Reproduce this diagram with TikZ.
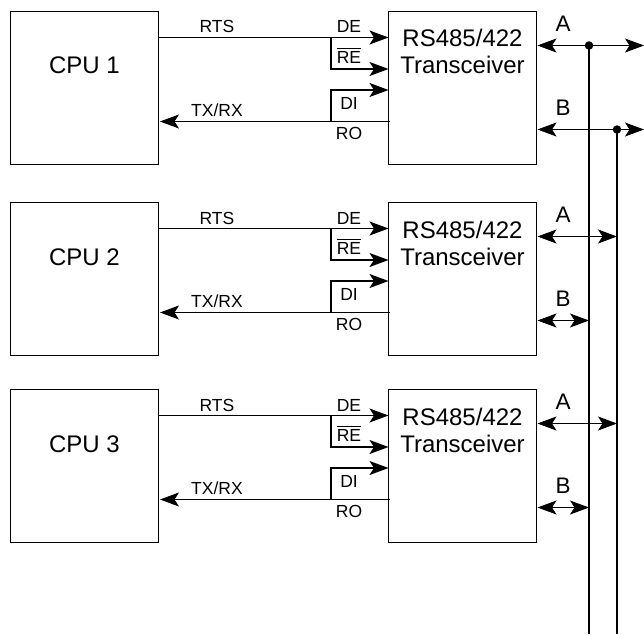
\documentclass[tikz,border=0pt]{standalone}
\usepackage{fontspec}
\setmainfont{Liberation Sans}
\usetikzlibrary{positioning, arrows.meta}

\begin{document}
\begin{tikzpicture}[
    % Block styles
    cpu/.style={
      rectangle, draw=black, line width=1pt, outer sep=0pt,
      minimum width=148pt, minimum height=152.5pt
    },
    transceiver/.style={cpu},
    boxlabel/.style={font=\fontsize{24}{26}\selectfont, anchor=base, inner sep=0pt},
    buslabel/.style={font=\fontsize{22.5}{24}\selectfont, anchor=base, inner sep=0pt},
    siglabel/.style={font=\fontsize{17.5}{20}\selectfont, anchor=base, inner sep=0pt},
    % Connector styles
    tip/.tip={Stealth[length=19pt, width=14pt, inset=4.5pt]},
    wire/.style={draw=black, line width=1pt},
    ctrlwire/.style={draw=black, line width=1.6pt},
    busline/.style={draw=black, line width=1pt},
    rail/.style={draw=black, line width=2pt},
    junction/.style={circle, fill=black, inner sep=0pt, minimum size=8.5pt},
  ]
  \useasboundingbox (0,0) rectangle (644pt,-634pt);

  % === Bus rails ===
  \coordinate (railA) at (589pt,-634pt);
  \coordinate (railB) at (617pt,-634pt);
  \coordinate (outA) at (644pt,-45.5pt);
  \coordinate (outB) at (644pt,-129.5pt);

  % === CPU 1 ===
  \node[cpu] (cpu1) at (84.5pt,-87.75pt) {};
  \node[transceiver, right=230pt of cpu1] (xcvr1) {};
  \node[boxlabel] (cpu1text) at ([yshift=-62.5pt]cpu1.north) {CPU 1};
  \node[boxlabel] (xcvr1top) at ([yshift=-35.5pt]xcvr1.north) {RS485/422};
  \node[boxlabel] (xcvr1bot) at ([yshift=-62.5pt]xcvr1.north) {Transceiver};

  \node[siglabel] (rts1) at ([shift={(58.5pt,-21.5pt)}]cpu1.north east) {RTS};
  \node[siglabel] (txrx1) at ([shift={(58.5pt,-105pt)}]cpu1.north east) {TX/RX};
  \node[siglabel] (de1) at ([shift={(-39.5pt,-21.5pt)}]xcvr1.north west) {DE};
  \node[siglabel] (re1) at ([shift={(-39.5pt,-52pt)}]xcvr1.north west) {$\overline{\mbox{\rule{0pt}{14pt}RE}}$};
  \node[siglabel] (di1) at ([shift={(-39.5pt,-97.5pt)}]xcvr1.north west) {DI};
  \node[siglabel] (ro1) at ([shift={(-39.5pt,-128pt)}]xcvr1.north west) {RO};
  \node[buslabel] (a1) at ([shift={(26.5pt,-20.2pt)}]xcvr1.north east) {A};
  \node[buslabel] (b1) at ([shift={(26.5pt,-104.2pt)}]xcvr1.north east) {B};

  \coordinate (rets1) at ([shift={(-57.5pt,-26pt)}]xcvr1.north west);
  \coordinate (dirx1) at ([shift={(-57.5pt,-110pt)}]xcvr1.north west);
  \coordinate (busa1) at ([shift={(1pt,-34pt)}]xcvr1.north east);
  \coordinate (busb1) at ([shift={(1pt,-118pt)}]xcvr1.north east);

  \draw[wire, -{tip}] ([yshift=-26pt]cpu1.north east) -- ([yshift=-26pt]xcvr1.north west);
  \draw[wire, -{tip}] ([shift={(1.5pt,-110pt)}]xcvr1.north west) -- ([shift={(1.5pt,-110pt)}]cpu1.north east);
  \draw[ctrlwire, -{tip}] (rets1) |- ([yshift=-57.5pt]xcvr1.north west);
  \draw[ctrlwire, -{tip}] (dirx1) |- ([yshift=-78.5pt]xcvr1.north west);
  \draw[busline, {tip}-{tip}] (busa1) -- (outA);
  \draw[busline, {tip}-{tip}] (busb1) -- (outB);

  \node[junction] (dotA) at (railA |- outA) {};
  \node[junction] (dotB) at (railB |- outB) {};
  \draw[rail] (dotA.center) -- (railA);
  \draw[rail] (dotB.center) -- (railB);

  % === CPU 2 ===
  \node[cpu, below=38.5pt of cpu1] (cpu2) {};
  \node[transceiver, right=230pt of cpu2] (xcvr2) {};
  \node[boxlabel] (cpu2text) at ([yshift=-62.5pt]cpu2.north) {CPU 2};
  \node[boxlabel] (xcvr2top) at ([yshift=-35.5pt]xcvr2.north) {RS485/422};
  \node[boxlabel] (xcvr2bot) at ([yshift=-62.5pt]xcvr2.north) {Transceiver};

  \node[siglabel] (rts2) at ([shift={(58.5pt,-21.5pt)}]cpu2.north east) {RTS};
  \node[siglabel] (txrx2) at ([shift={(58.5pt,-105pt)}]cpu2.north east) {TX/RX};
  \node[siglabel] (de2) at ([shift={(-39.5pt,-21.5pt)}]xcvr2.north west) {DE};
  \node[siglabel] (re2) at ([shift={(-39.5pt,-52pt)}]xcvr2.north west) {$\overline{\mbox{\rule{0pt}{14pt}RE}}$};
  \node[siglabel] (di2) at ([shift={(-39.5pt,-97.5pt)}]xcvr2.north west) {DI};
  \node[siglabel] (ro2) at ([shift={(-39.5pt,-128pt)}]xcvr2.north west) {RO};
  \node[buslabel] (a2) at ([shift={(26.5pt,-20.2pt)}]xcvr2.north east) {A};
  \node[buslabel] (b2) at ([shift={(26.5pt,-104.2pt)}]xcvr2.north east) {B};

  \coordinate (rets2) at ([shift={(-57.5pt,-26pt)}]xcvr2.north west);
  \coordinate (dirx2) at ([shift={(-57.5pt,-110pt)}]xcvr2.north west);
  \coordinate (busa2) at ([shift={(1pt,-34pt)}]xcvr2.north east);
  \coordinate (busb2) at ([shift={(1pt,-118pt)}]xcvr2.north east);

  \draw[wire, -{tip}] ([yshift=-26pt]cpu2.north east) -- ([yshift=-26pt]xcvr2.north west);
  \draw[wire, -{tip}] ([shift={(1.5pt,-110pt)}]xcvr2.north west) -- ([shift={(1.5pt,-110pt)}]cpu2.north east);
  \draw[ctrlwire, -{tip}] (rets2) |- ([yshift=-57.5pt]xcvr2.north west);
  \draw[ctrlwire, -{tip}] (dirx2) |- ([yshift=-78.5pt]xcvr2.north west);
  \draw[busline, {tip}-{tip}] (busa2) -- (railB |- busa2);
  \draw[busline, {tip}-{tip}] (busb2) -- (railA |- busb2);

  % === CPU 3 ===
  \node[cpu, below=34.5pt of cpu2] (cpu3) {};
  \node[transceiver, right=230pt of cpu3] (xcvr3) {};
  \node[boxlabel] (cpu3text) at ([yshift=-62.5pt]cpu3.north) {CPU 3};
  \node[boxlabel] (xcvr3top) at ([yshift=-35.5pt]xcvr3.north) {RS485/422};
  \node[boxlabel] (xcvr3bot) at ([yshift=-62.5pt]xcvr3.north) {Transceiver};

  \node[siglabel] (rts3) at ([shift={(58.5pt,-21.5pt)}]cpu3.north east) {RTS};
  \node[siglabel] (txrx3) at ([shift={(58.5pt,-105pt)}]cpu3.north east) {TX/RX};
  \node[siglabel] (de3) at ([shift={(-39.5pt,-21.5pt)}]xcvr3.north west) {DE};
  \node[siglabel] (re3) at ([shift={(-39.5pt,-52pt)}]xcvr3.north west) {$\overline{\mbox{\rule{0pt}{14pt}RE}}$};
  \node[siglabel] (di3) at ([shift={(-39.5pt,-97.5pt)}]xcvr3.north west) {DI};
  \node[siglabel] (ro3) at ([shift={(-39.5pt,-128pt)}]xcvr3.north west) {RO};
  \node[buslabel] (a3) at ([shift={(26.5pt,-20.2pt)}]xcvr3.north east) {A};
  \node[buslabel] (b3) at ([shift={(26.5pt,-104.2pt)}]xcvr3.north east) {B};

  \coordinate (rets3) at ([shift={(-57.5pt,-26pt)}]xcvr3.north west);
  \coordinate (dirx3) at ([shift={(-57.5pt,-110pt)}]xcvr3.north west);
  \coordinate (busa3) at ([shift={(1pt,-34pt)}]xcvr3.north east);
  \coordinate (busb3) at ([shift={(1pt,-118pt)}]xcvr3.north east);

  \draw[wire, -{tip}] ([yshift=-26pt]cpu3.north east) -- ([yshift=-26pt]xcvr3.north west);
  \draw[wire, -{tip}] ([shift={(1.5pt,-110pt)}]xcvr3.north west) -- ([shift={(1.5pt,-110pt)}]cpu3.north east);
  \draw[ctrlwire, -{tip}] (rets3) |- ([yshift=-57.5pt]xcvr3.north west);
  \draw[ctrlwire, -{tip}] (dirx3) |- ([yshift=-78.5pt]xcvr3.north west);
  \draw[busline, {tip}-{tip}] (busa3) -- (railB |- busa3);
  \draw[busline, {tip}-{tip}] (busb3) -- (railA |- busb3);

\end{tikzpicture}
\end{document}
